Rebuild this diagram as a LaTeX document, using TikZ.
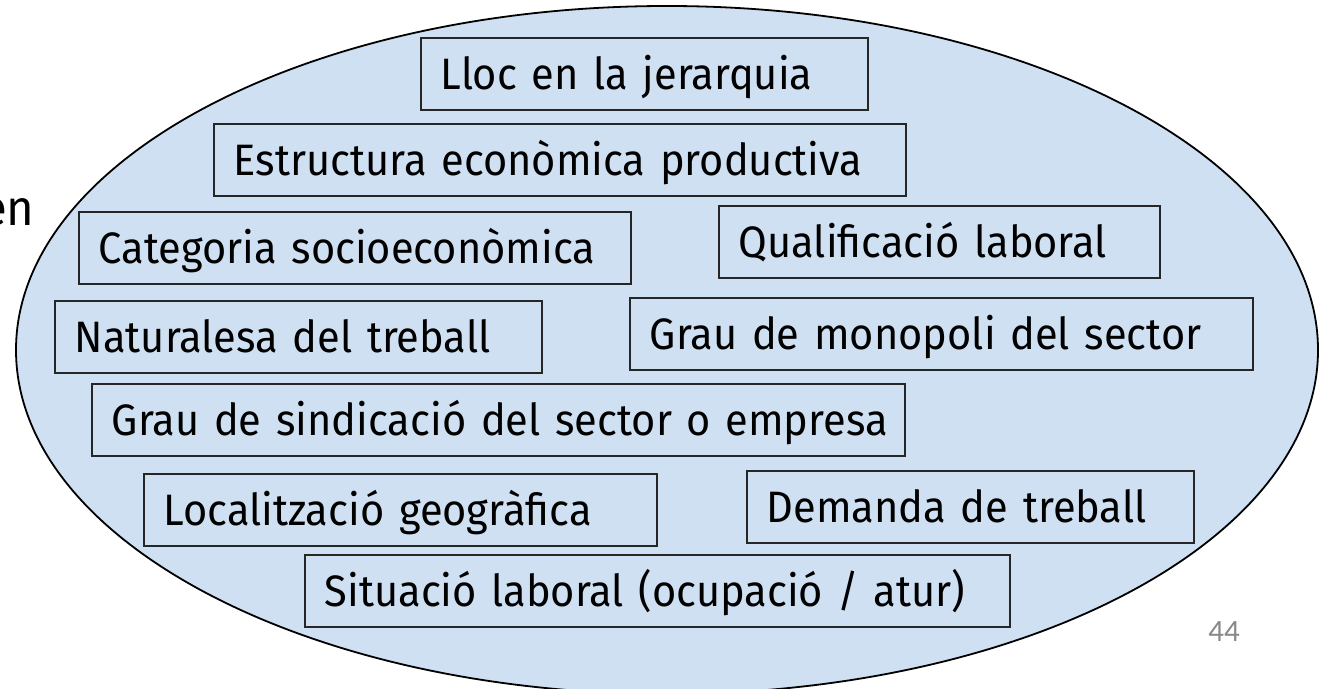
\documentclass[tikz,border=0pt]{standalone}
\usepackage{fontspec}
\setmainfont{Fira Sans}[FakeStretch=0.945]
\newfontfamily\numfont{Carlito}
\definecolor{ellfill}{RGB}{207,224,242}
\definecolor{boxline}{RGB}{38,38,38}
\definecolor{pagenum}{RGB}{137,137,137}
\newcommand{\keepline}[1]{\mbox{#1}}
\tikzset{
  factor/.style={draw=boxline, line width=1.6pt, fill=ellfill, anchor=west,
    inner xsep=20pt, inner ysep=0pt, minimum height=72pt,
    text height=31pt, text depth=0pt, align=left,
    font=\fontsize{44pt}{48pt}\selectfont},
  cloud/.style={draw=black, line width=1.8pt, fill=ellfill}
}
\begin{document}
\begin{tikzpicture}[x=1pt,y=1pt]
\useasboundingbox (0,0) rectangle (1319,688);
\clip (0,0) rectangle (1319,688);
\node[anchor=base west, font=\fontsize{50pt}{54pt}\selectfont, inner sep=0pt] (title) at (-19,462) {en};
\draw[cloud] (667,338) ellipse [x radius=651, y radius=344];
\node[factor, text width=407pt] (lloc) at (420,614) {\keepline{Lloc en la jerarquia}};
\node[factor, text width=652pt] (estr) at (213,528) {\keepline{Estructura econòmica productiva}};
\node[factor, text width=512pt] (cat) at (78,440) {\keepline{Categoria socioeconòmica}};
\node[factor, text width=401pt] (qual) at (718,446) {\keepline{Qualificació laboral}};
\node[factor, text width=447pt] (nat) at (54,351) {\keepline{Naturalesa del treball}};
\node[factor, text width=583pt] (mono) at (629,354) {\keepline{Grau de monopoli del sector}};
\node[factor, text width=773pt] (sind) at (91,268) {\keepline{Grau de sindicació del sector o empresa}};
\node[factor, text width=473pt] (loc) at (143,178) {\keepline{Localització geogràfica}};
\node[factor, text width=407pt] (dem) at (746,181) {\keepline{Demanda de treball}};
\node[factor, text width=665pt] (sit) at (304,97) {\keepline{Situació laboral (ocupació / atur)}};
\node[text=pagenum, font=\numfont\fontsize{31pt}{34pt}\selectfont, inner sep=0pt] (num) at (1224,56) {44};
\end{tikzpicture}
\end{document}
